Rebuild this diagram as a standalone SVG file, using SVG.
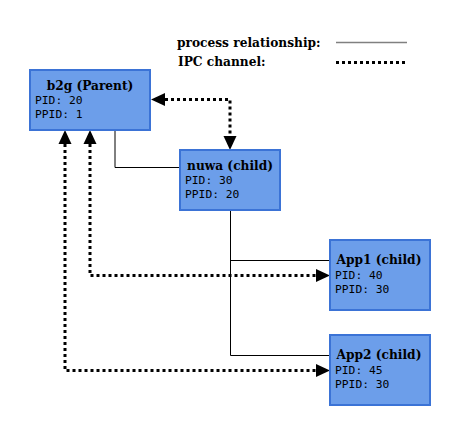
<svg xmlns="http://www.w3.org/2000/svg" width="450" height="425" viewBox="0 0 450 425">
<style>
.box{fill:#6c9eea;stroke:#3b73d6;stroke-width:2}
text{font-family:"DejaVu Sans Mono","Liberation Mono",monospace;font-size:11.3px;fill:#000}
.t{font-family:"DejaVu Serif","Liberation Serif",serif;font-weight:bold;font-size:12.2px;text-anchor:middle}
.lg{font-family:"DejaVu Serif","Liberation Serif",serif;font-weight:bold;font-size:12.2px}
.rel{fill:none;stroke:#000;stroke-width:1}
.ipc{fill:none;stroke:#000;stroke-width:3;stroke-dasharray:3 3}
.ah{fill:#000}
</style>
<rect width="450" height="425" fill="#fff"/>
<g id="legend">
<text class="lg" x="177" y="47">process relationship:</text>
<line x1="336" y1="42.5" x2="407" y2="42.5" stroke="#808080" stroke-width="1.5"/>
<text class="lg" x="178" y="66">IPC channel:</text>
<line x1="336" y1="62.5" x2="407" y2="62.5" class="ipc"/>
</g>
<g id="connectors">
<path class="rel" d="M115 131 V167.5 H180"/>
<path class="rel" d="M230.5 211 V355.5 H329"/>
<path class="rel" d="M230.5 260.5 H329"/>
<path class="ipc" d="M165 99.5 H230 V136"/>
<polygon class="ah" points="151,99.5 165,93 165,106"/>
<polygon class="ah" points="230,150 223.5,136 236.5,136"/>
<path class="ipc" d="M90 144 V275.5 H316"/>
<polygon class="ah" points="90,130 83.5,144 96.5,144"/>
<polygon class="ah" points="330,275.5 316,269 316,282"/>
<path class="ipc" d="M65 144 V370.5 H316"/>
<polygon class="ah" points="65,130 58.5,144 71.5,144"/>
<polygon class="ah" points="330,370.5 316,364 316,377"/>
</g>
<g id="b2g">
<rect class="box" x="30" y="70" width="120" height="60"/>
<text class="t" x="90" y="90">b2g (Parent)</text>
<text x="35" y="103.5">PID: 20</text>
<text x="35" y="117.5">PPID: 1</text>
</g>
<g id="nuwa">
<rect class="box" x="180" y="150" width="100" height="60"/>
<text class="t" x="230" y="170">nuwa (child)</text>
<text x="185" y="183.5">PID: 30</text>
<text x="185" y="197.5">PPID: 20</text>
</g>
<g id="app1">
<rect class="box" x="330" y="240" width="100" height="70"/>
<text class="t" x="379" y="264">App1 (child)</text>
<text x="335" y="278.5">PID: 40</text>
<text x="335" y="292.5">PPID: 30</text>
</g>
<g id="app2">
<rect class="box" x="330" y="335" width="100" height="70"/>
<text class="t" x="379" y="359">App2 (child)</text>
<text x="335" y="373.5">PID: 45</text>
<text x="335" y="387.5">PPID: 30</text>
</g>
</svg>
